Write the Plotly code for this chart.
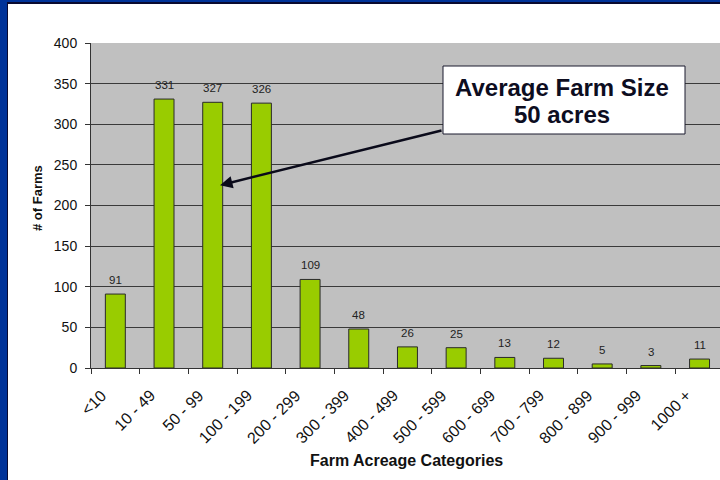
import plotly.graph_objects as go

categories = ["<10", "10 - 49", "50 - 99", "100 - 199", "200 - 299", "300 - 399", "400 - 499",
              "500 - 599", "600 - 699", "700 - 799", "800 - 899", "900 - 999", "1000 +"]
farms = [91, 331, 327, 326, 109, 48, 26, 25, 13, 12, 5, 3, 11]
y_ticks = [0, 50, 100, 150, 200, 250, 300, 350, 400]
callout_lines = ["Average Farm Size", "50 acres"]

W, H = 720, 480
ML, MR, MT, MB = 91, 0, 43, 112
PW, PH = W - ML - MR, H - MT - MB

def px(x):
    return (x - ML) / PW

def py(y):
    return (H - MB - y) / PH

FONT = "Liberation Sans, Arial, sans-serif"

fig = go.Figure()
fig.add_trace(go.Bar(
    x=categories, y=farms, width=0.41,
    marker=dict(color="#99CC00", line=dict(color="#2a2a2a", width=1)),
    hoverinfo="x+y",
))

annotations = []
for c, v in zip(categories, farms):
    annotations.append(dict(x=c, y=v, xref="x", yref="y", text=str(v), showarrow=False,
                            yanchor="middle", yshift=14,
                            font=dict(family=FONT, size=11.5, color="#222222")))

# rotated category labels
for c in categories:
    annotations.append(dict(x=c, y=py(384), xref="x", yref="paper", text=c, showarrow=False,
                            textangle=-45, xanchor="right", yanchor="top", xshift=-3,
                            font=dict(family=FONT, size=16, color="#111111")))

# arrow
annotations.append(dict(x=2.15, y=225, xref="x", yref="y", text="", showarrow=True,
                        ax=223, ay=-55, arrowhead=2, arrowsize=1, arrowwidth=2.5,
                        arrowcolor="#0a0a1a"))
# callout text
for line, yc in zip(callout_lines, [87, 114.5]):
    annotations.append(dict(x=px(562), y=py(yc), xref="paper", yref="paper",
                            text="<b>" + line + "</b>", showarrow=False,
                            font=dict(family=FONT, size=24, color="#0d0d1f"),
                            xanchor="center", yanchor="middle"))
# axis titles
annotations.append(dict(x=px(37.5), y=py(198.5), xref="paper", yref="paper",
                        text="<b># of Farms</b>", showarrow=False, textangle=-90,
                        font=dict(family=FONT, size=13, color="#111111"),
                        xanchor="center", yanchor="middle"))
annotations.append(dict(x=px(407), y=py(460), xref="paper", yref="paper",
                        text="<b>Farm Acreage Categories</b>", showarrow=False,
                        font=dict(family=FONT, size=16, color="#111111"),
                        xanchor="center", yanchor="middle"))

shapes = [
    dict(type="rect", xref="paper", yref="paper", x0=px(443), x1=px(685), y0=py(134), y1=py(66),
         fillcolor="white", line=dict(color="#1a1a2e", width=1), layer="above"),
    dict(type="rect", xref="paper", yref="paper", x0=px(0), x1=px(7), y0=py(480), y1=py(0),
         fillcolor="#003399", line=dict(width=0), layer="above"),
    dict(type="rect", xref="paper", yref="paper", x0=px(0), x1=px(720), y0=py(2), y1=py(0),
         fillcolor="#003399", line=dict(width=0), layer="above"),
    dict(type="rect", xref="paper", yref="paper", x0=px(7), x1=px(8), y0=py(480), y1=py(3),
         fillcolor="#0a0a30", line=dict(width=0), layer="above"),
    dict(type="rect", xref="paper", yref="paper", x0=px(7), x1=px(720), y0=py(4), y1=py(2),
         fillcolor="#0a0a30", line=dict(width=0), layer="above"),
]

fig.update_layout(
    width=W, height=H,
    margin=dict(l=ML, r=MR, t=MT, b=MB, pad=0),
    paper_bgcolor="white", plot_bgcolor="#C0C0C0",
    showlegend=False, bargap=0.59,
    annotations=annotations, shapes=shapes,
    font=dict(family=FONT, color="#111111"),
)
fig.update_xaxes(
    type="category", range=[-0.5, 12.42],
    tickson="boundaries", ticks="outside", ticklen=5, tickcolor="#333333",
    showticklabels=False,
    showline=True, linecolor="#333333", linewidth=1, showgrid=False,
)
fig.update_yaxes(
    range=[0, 400], tickvals=y_ticks, ticks="outside", ticklen=5, tickcolor="#333333",
    tickfont=dict(family=FONT, size=14, color="#111111"), ticklabelstandoff=5,
    showline=True, linecolor="#333333", linewidth=1,
    showgrid=True, gridcolor="#3a3a3a", gridwidth=1, zeroline=False,
)

fig.write_html("out.html")
